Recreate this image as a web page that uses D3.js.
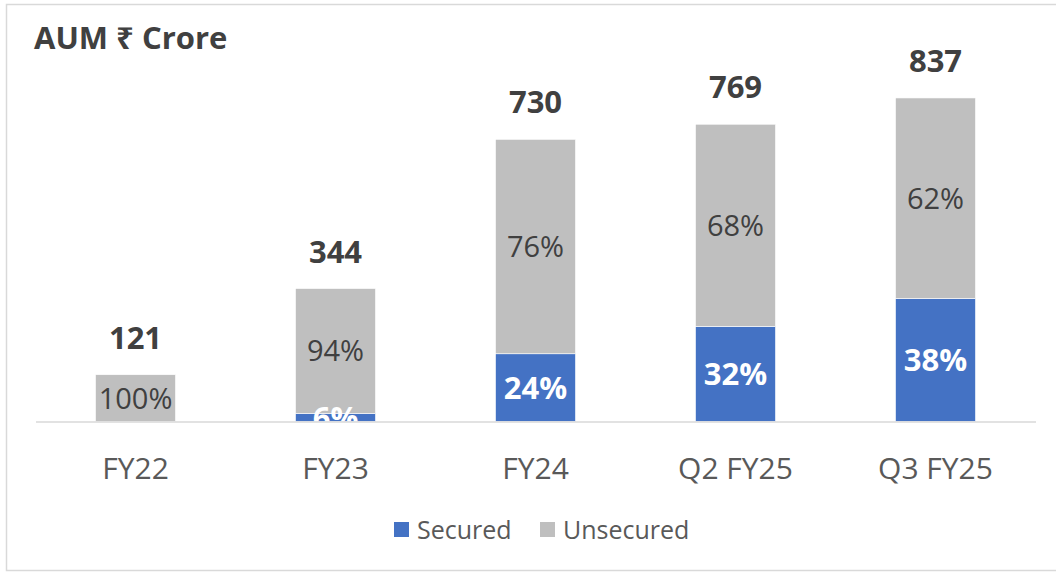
<!DOCTYPE html>
<html>
<head>
<meta charset="utf-8">
<script src="https://cdn.jsdelivr.net/npm/d3@7"></script>
<style>
	body { margin: 0; background: #fff; }
	text { font-family: "Open Sans", "Noto Sans", sans-serif; }
</style>
</head>
<body>
<svg id="chart" width="1056" height="572"></svg>
<script>

const categories = ["FY22", "FY23", "FY24", "Q2 FY25", "Q3 FY25"];
const totals = [121, 344, 730, 769, 837];
const securedPct = [0, 6, 24, 32, 38];
const unsecuredPct = [100, 94, 76, 68, 62];
const seriesNames = ["Secured", "Unsecured"];

const colors = {"Secured": "#4472C4", "Unsecured": "#BFBFBF"};

const svg = d3.select("#chart");

// chart frame (right edge runs off the picture)
svg.append("rect")
	.attr("x", 6.5).attr("y", 4.5)
	.attr("width", 1070).attr("height", 566)
	.style("fill", "none")
	.style("stroke", "#D9D9D9")
	.style("stroke-width", "1.5px");

svg.append("text")
	.attr("x", 34).attr("y", 49)
	.text("AUM ₹ Crore")
	.style("font-size", "31px")
	.style("font-weight", "bold")
	.style("fill", "#404040");

const x = d3.scaleBand()
	.domain(categories)
	.range([35.5, 1035.5])
	.paddingInner(0.6)
	.paddingOuter(0.3);

const y = d3.scaleLinear()
	.domain([0, 900])
	.range([421.5, 73.6]);

// stacked values in crore
const rows = categories.map((c, i) => ({
	cat: c,
	total: totals[i],
	Secured: totals[i] * securedPct[i] / 100,
	Unsecured: totals[i] * unsecuredPct[i] / 100,
	pct: {"Secured": securedPct[i], "Unsecured": unsecuredPct[i]}
}));

const stack = d3.stack().keys(seriesNames)(rows);

// clip labels at the axis line
svg.append("defs").append("clipPath")
	.attr("id", "plot-clip")
	.append("rect")
	.attr("x", 0).attr("y", 0)
	.attr("width", 1056).attr("height", y(0));

const layers = svg.selectAll("g.layer")
	.data(stack)
	.enter().append("g")
		.attr("class", "layer")
		.style("fill", d => colors[d.key]);

layers.selectAll("rect")
	.data(d => d)
	.enter().append("rect")
		.attr("x", d => x(d.data.cat))
		.attr("width", x.bandwidth())
		.attr("y", d => y(d[1]))
		.attr("height", d => y(d[0]) - y(d[1]))
		.style("stroke", "#FFFFFF")
		.style("stroke-width", "0.6px");

// segment labels
const labels = svg.append("g").attr("clip-path", "url(#plot-clip)");

stack.forEach(layer => {
	labels.selectAll(null)
		.data(layer.filter(d => d.data.pct[layer.key] > 0))
		.enter().append("text")
			.attr("x", d => x(d.data.cat) + x.bandwidth() / 2)
			.attr("y", d => (y(d[0]) + y(d[1])) / 2)
			.attr("dy", "0.36em")
			.attr("text-anchor", "middle")
			.text(d => d.data.pct[layer.key] + "%")
			.style("font-size", layer.key == "Secured" ? "31px" : "29px")
			.style("font-weight", layer.key == "Secured" ? "bold" : "normal")
			.style("fill", layer.key == "Secured" ? "#FFFFFF" : "#404040");
});

// totals above bars
svg.selectAll("text.total")
	.data(rows)
	.enter().append("text")
		.attr("class", "total")
		.attr("x", d => x(d.cat) + x.bandwidth() / 2)
		.attr("y", d => y(d.total) - 26)
		.attr("text-anchor", "middle")
		.text(d => d.total)
		.style("font-size", "31px")
		.style("font-weight", "bold")
		.style("fill", "#404040");

// category axis
const axis = svg.append("g")
	.attr("transform", "translate(0," + y(0) + ")")
	.call(d3.axisBottom(x).tickSize(0).tickPadding(36));

axis.select(".domain")
	.attr("stroke", "#D9D9D9")
	.attr("stroke-width", 1.5);

axis.selectAll("text")
	.style("font-size", "30px")
	.style("font-family", "'Open Sans', sans-serif")
	.style("fill", "#595959");

// legend
const legendX = [394, 540];
const legend = svg.selectAll("g.legend")
	.data(seriesNames)
	.enter().append("g")
		.attr("class", "legend")
		.attr("transform", (d, i) => "translate(" + legendX[i] + ",522)");

legend.append("rect")
	.attr("width", 15).attr("height", 15)
	.style("fill", d => colors[d]);

legend.append("text")
	.attr("x", 23).attr("y", 7.5)
	.attr("dy", "0.36em")
	.text(d => d)
	.style("font-size", "25px")
	.style("fill", "#595959");

</script>
</body>
</html>
